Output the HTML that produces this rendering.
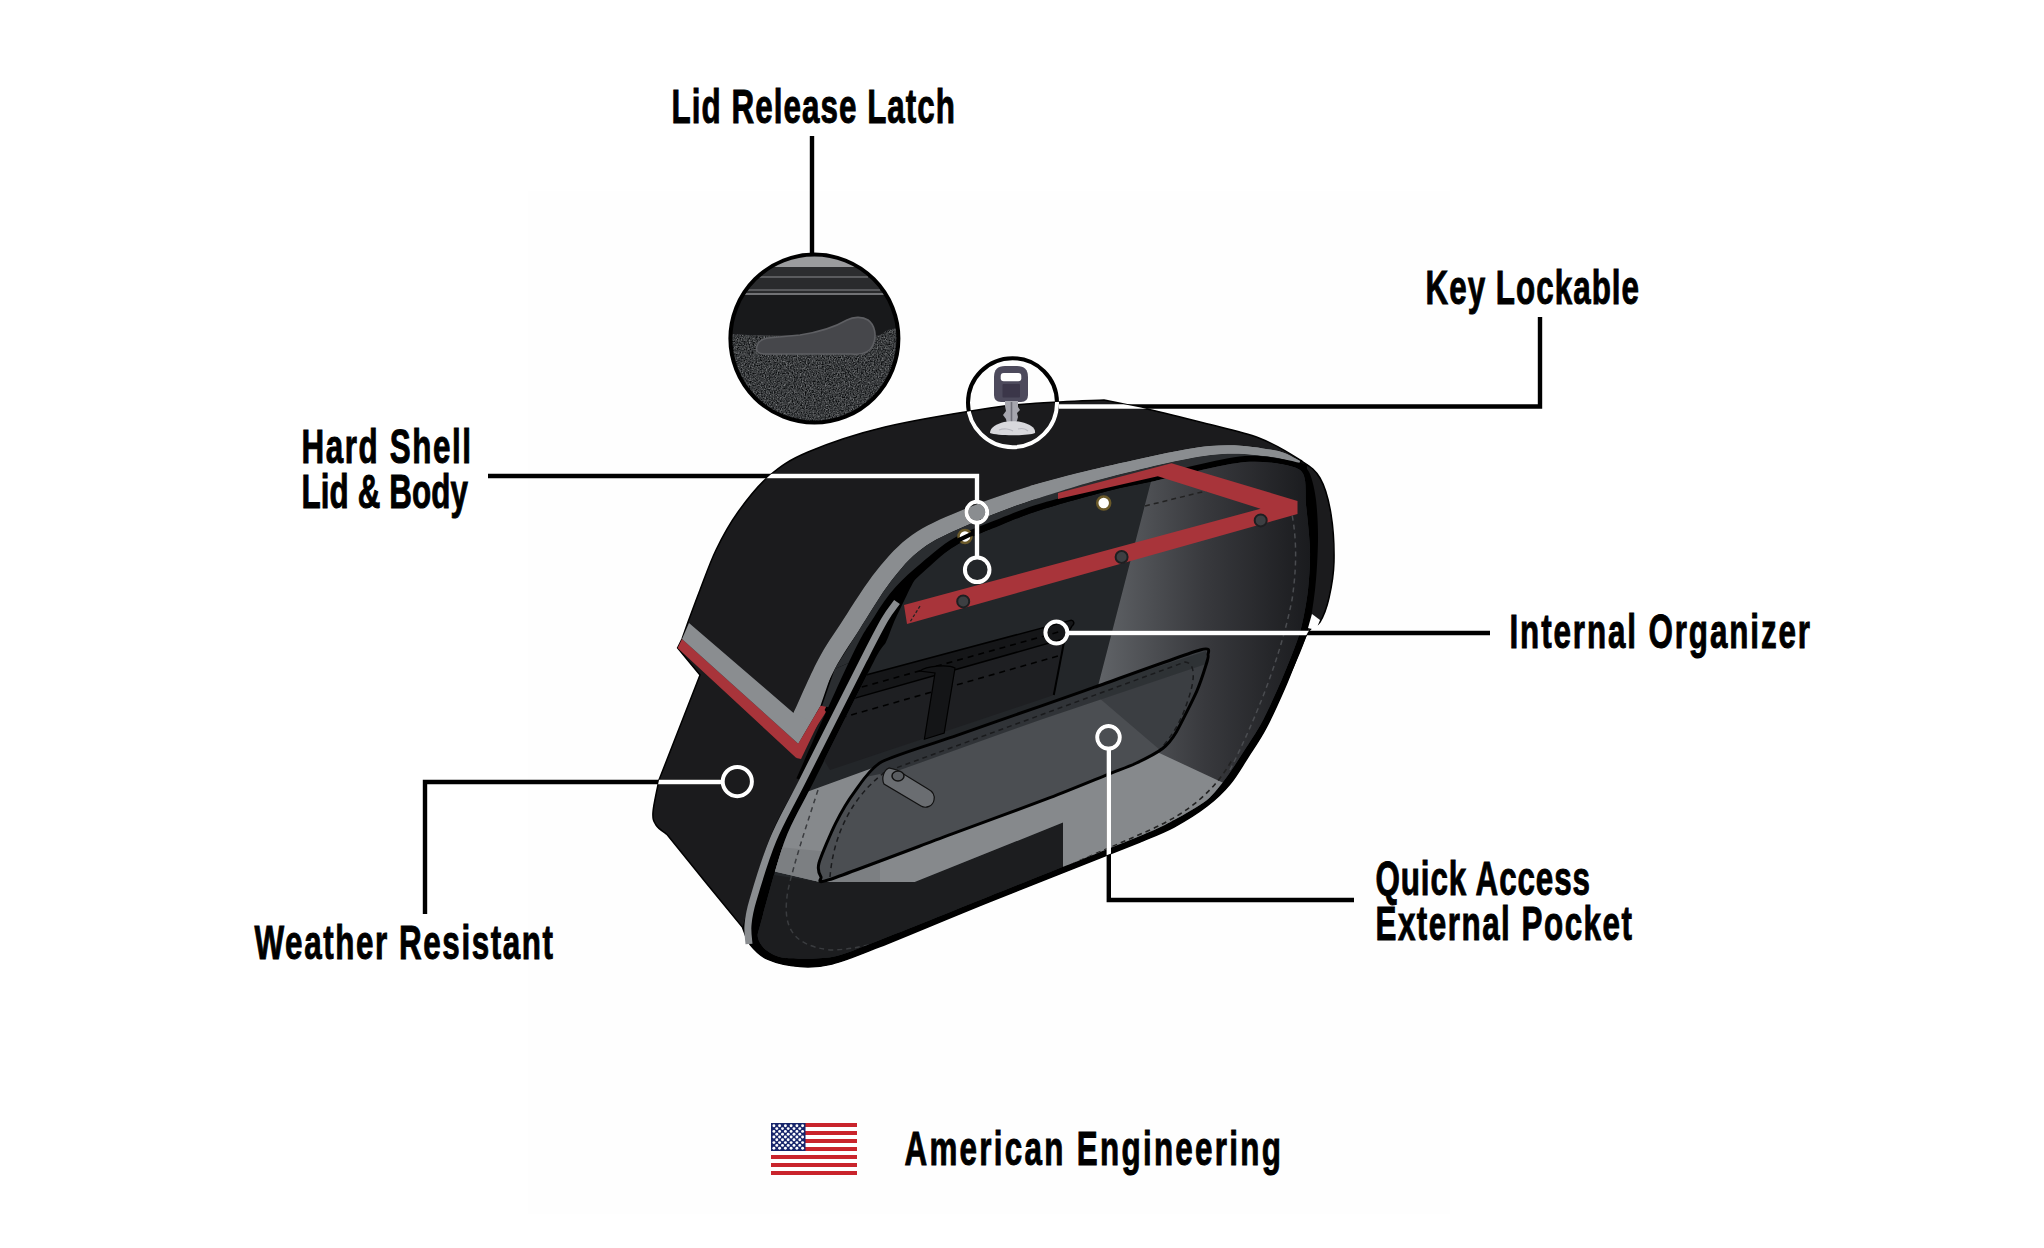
<!DOCTYPE html>
<html><head><meta charset="utf-8">
<style>
html,body{margin:0;padding:0;background:#fff;width:2044px;height:1248px;overflow:hidden}
svg{display:block}
.t{font-family:"Liberation Sans",sans-serif;font-weight:bold;font-size:49px;fill:#000;stroke:#000;stroke-width:1}
</style></head><body>
<svg width="2044" height="1248" viewBox="0 0 2044 1248">
<rect x="0" y="0" width="2044" height="1248" fill="#fff"/>
<rect x="528" y="191" width="922" height="1023" fill="#fefefe"/>
<path d="M688,622 C690.0,616.7 695.3,602.0 700.0,590.0 C704.7,578.0 709.7,563.0 716.0,550.0 C722.3,537.0 729.2,524.3 738.0,512.0 C746.8,499.7 757.3,486.0 769.0,476.0 C780.7,466.0 788.7,460.2 808.0,452.0 C827.3,443.8 854.7,434.3 885.0,427.0 C915.3,419.7 964.2,412.0 990.0,408.0 C1015.8,404.0 1021.0,404.3 1040.0,403.0 C1059.0,401.7 1093.3,400.5 1104.0,400.0 C1111.2,401.5 1130.3,405.2 1147.0,409.0 C1163.7,412.8 1185.3,418.2 1204.0,423.0 C1222.7,427.8 1243.0,431.8 1259.0,438.0 C1275.0,444.2 1289.8,453.3 1300.0,460.0 C1310.2,466.7 1314.8,469.0 1320.0,478.0 C1325.2,487.0 1328.7,500.0 1331.0,514.0 C1333.3,528.0 1334.3,548.0 1334.0,562.0 C1333.7,576.0 1331.3,588.0 1329.0,598.0 C1326.7,608.0 1323.7,616.0 1320.0,622.0 C1316.3,628.0 1312.7,623.5 1307.0,634.0 C1301.3,644.5 1292.8,669.3 1286.0,685.0 C1279.2,700.7 1272.3,716.0 1266.0,728.0 C1259.7,740.0 1254.0,747.7 1248.0,757.0 C1242.0,766.3 1236.8,775.8 1230.0,784.0 C1223.2,792.2 1216.3,798.8 1207.0,806.0 C1197.7,813.2 1185.2,821.0 1174.0,827.0 C1162.8,833.0 1145.7,839.5 1140.0,842.0 L990,901.5 C1115.0,851.9 1033.3,884.1 990.0,901.5 C946.7,918.9 906.3,936.2 880.0,946.6 C853.7,957.0 845.3,960.7 832.0,964.0 C818.7,967.3 810.7,967.4 800.0,966.6 C789.3,965.8 776.2,963.0 768.0,959.4 C759.8,955.8 754.8,950.3 750.5,945.0 C746.2,939.7 743.8,930.3 742.5,927.4 L707,884 L667,834.5 C665.2,832.9 658.3,828.8 656.0,825.0 C653.7,821.2 652.5,819.5 653.0,812.0 C653.5,804.5 658.0,785.3 659.0,780.0 L700,675 L677.6,648 L682,639 Z" fill="#1b1b1d" stroke="#000" stroke-width="1.5"/>
<path d="M793.5,713.0 C797.6,704.2 809.8,675.5 818.0,660.0 C826.2,644.5 833.2,635.0 843.0,620.0 C852.8,605.0 865.5,584.2 877.0,570.0 C888.5,555.8 898.2,544.8 912.0,535.0 C925.8,525.2 940.3,519.2 960.0,511.0 C979.7,502.8 1005.3,493.5 1030.0,486.0 C1054.7,478.5 1078.0,472.7 1108.0,466.0 C1138.0,459.3 1182.5,448.7 1210.0,446.0 C1237.5,443.3 1258.0,447.5 1273.0,450.0 C1288.0,452.5 1295.5,459.2 1300.0,461.0 C1301.5,462.9 1307.6,468.1 1310.0,474.0 C1312.4,479.9 1314.8,490.1 1316.0,500.0 C1317.2,509.9 1318.2,526.5 1318.0,540.0 C1317.8,553.5 1316.7,575.9 1315.0,590.0 C1313.3,604.1 1311.3,619.8 1307.0,634.0 C1302.7,648.2 1292.2,670.9 1286.0,685.0 C1279.8,699.1 1271.7,717.2 1266.0,728.0 C1260.3,738.8 1253.4,748.6 1248.0,757.0 C1242.6,765.4 1236.2,776.6 1230.0,784.0 C1223.8,791.4 1215.4,799.5 1207.0,806.0 C1198.6,812.5 1184.0,821.6 1174.0,827.0 C1164.0,832.4 1145.1,839.8 1140.0,842.0 L990,901.5 C1115.0,851.9 1033.3,884.1 990.0,901.5 C946.7,918.9 906.3,936.2 880.0,946.6 C853.7,957.0 845.3,960.7 832.0,964.0 C818.7,967.3 810.7,967.4 800.0,966.6 C789.3,965.8 776.2,963.0 768.0,959.4 C759.8,955.8 754.8,950.3 750.5,945.0 C746.2,939.7 743.8,930.3 742.5,927.4 C746.9,912.8 759.5,864.6 769.0,840.0 C778.5,815.4 792.0,795.0 799.2,780.0 C806.4,765.0 806.9,761.2 812.0,750.0 C817.1,738.8 827.0,719.2 830.0,713.0 Z" fill="#000"/>
<path d="M682,639 L798.3,743.7 L822.3,707 L826,712 L796.3,758 L677.6,648 Z" fill="#a8343a"/>
<path d="M689,623 L793.5,713 L825,660 L843,640 L820.4,706 L798.3,743.7 L682,639 Z" fill="#8a8d90"/>
<path d="M793.5,713.0 C797.6,704.2 809.8,675.5 818.0,660.0 C826.2,644.5 833.2,635.0 843.0,620.0 C852.8,605.0 865.5,584.2 877.0,570.0 C888.5,555.8 898.2,544.8 912.0,535.0 C925.8,525.2 940.3,519.2 960.0,511.0 C979.7,502.8 1005.3,493.5 1030.0,486.0 C1054.7,478.5 1078.0,472.7 1108.0,466.0 C1138.0,459.3 1182.5,448.7 1210.0,446.0 C1237.5,443.3 1258.0,447.5 1273.0,450.0 C1288.0,452.5 1295.5,459.2 1300.0,461.0 L1298.5,464.7 C1294.1,463.4 1286.5,458.5 1271.8,456.9 C1257.2,455.3 1237.8,451.7 1210.9,455.0 C1184.0,458.3 1139.9,469.3 1110.4,476.7 C1080.9,484.1 1058.1,491.2 1034.1,499.4 C1010.0,507.6 984.8,517.5 966.1,525.8 C947.4,534.0 934.4,539.6 921.8,548.9 C909.3,558.1 901.5,567.8 891.0,581.3 C880.5,594.9 868.3,615.8 858.9,630.4 C849.5,645.0 842.8,653.8 834.8,668.9 C826.7,684.0 814.8,712.3 810.7,721.0 Z" fill="#8a8d90"/>
<path d="M796.3,758 L798.3,743.7 L820.4,706 L827,705 L801,759 Z" fill="#a8343a"/>
<path d="M834.8,668.9 L855.5,660 L832,708 L822,706 Z" fill="#2a2d30"/>
<path d="M1298.5,464.7 C1294.1,463.4 1286.5,458.5 1271.8,456.9 C1257.2,455.3 1237.8,451.7 1210.9,455.0 C1184.0,458.3 1139.9,469.3 1110.4,476.7 C1080.9,484.1 1058.1,491.2 1034.1,499.4 C1010.0,507.6 984.8,517.5 966.1,525.8 C947.4,534.0 934.4,539.6 921.8,548.9 C909.3,558.1 901.5,567.8 891.0,581.3 C880.5,594.9 868.3,615.8 858.9,630.4 C849.5,645.0 838.8,662.5 834.8,668.9 L855.5,660.0 C859.2,653.3 870.8,631.7 878.0,620.0 C885.2,608.3 891.3,599.0 899.0,590.0 C906.7,581.0 914.5,574.2 924.0,566.0 C933.5,557.8 943.3,548.3 956.0,541.0 C968.7,533.7 986.0,527.7 1000.0,522.0 C1014.0,516.3 1022.0,512.7 1040.0,507.0 C1058.0,501.3 1089.7,492.7 1108.0,488.0 C1126.3,483.3 1126.8,483.9 1149.6,479.0 C1172.4,474.1 1218.8,460.6 1245.0,458.5 C1271.2,456.4 1296.7,465.3 1307.0,466.7 Z" fill="#2a2d30"/>
<clipPath id="pinclip"><path d="M1300.0,470.0 C1291.9,464.3 1265.0,460.4 1245.0,462.0 C1225.0,463.6 1168.3,478.1 1150.0,482.0 C1131.7,485.9 1122.7,487.3 1108.0,491.0 C1093.3,494.7 1054.4,505.5 1040.0,510.0 C1025.6,514.5 1008.5,521.7 1000.0,525.0 C991.5,528.3 981.3,532.6 976.0,535.0 C970.7,537.4 965.6,539.7 960.0,543.0 C954.4,546.3 939.9,555.3 934.0,560.0 C928.1,564.7 920.0,572.5 916.0,578.0 C912.0,583.5 906.9,595.1 904.0,601.0 C901.1,606.9 896.4,616.5 894.0,622.0 C891.6,627.5 888.7,636.7 886.0,642.0 C883.3,647.3 883.1,643.6 873.6,662.0 C864.1,680.4 826.4,756.3 814.6,780.0 C802.8,803.7 792.1,821.1 785.0,840.0 C777.9,858.9 764.6,908.9 761.0,922.0 C757.4,935.1 757.3,934.3 758.0,938.0 C758.7,941.7 762.4,947.3 766.0,950.0 C769.6,952.7 776.2,957.1 785.0,958.0 C793.8,958.9 819.3,959.4 832.0,957.0 C844.7,954.6 858.9,948.1 880.0,940.0 C901.1,931.9 955.3,909.9 990.0,896.0 C1024.7,882.1 1115.5,846.1 1140.0,836.0 C1164.5,825.9 1165.1,824.8 1174.0,820.0 C1182.9,815.2 1200.1,805.6 1207.0,800.0 C1213.9,794.4 1221.1,784.5 1226.0,778.0 C1230.9,771.5 1239.2,758.5 1244.0,751.0 C1248.8,743.5 1256.9,731.6 1262.0,722.0 C1267.1,712.4 1276.9,691.0 1282.0,679.0 C1287.1,667.0 1296.5,643.9 1300.0,632.0 C1303.5,620.1 1306.7,600.9 1308.0,590.0 C1309.3,579.1 1310.3,561.3 1310.0,550.0 C1309.7,538.7 1307.3,515.7 1306.0,505.0 C1304.7,494.3 1308.1,475.7 1300.0,470.0 Z"/></clipPath>
<g clip-path="url(#pinclip)">
<clipPath id="gb"><path d="M760,800 L802.5,793.5 L874.6,767.3 L1000,740 L1155,751 L1230,786 L1230,900 L1063,900 L1063,822.6 L914.7,882 L819.8,882 L760,868 Z"/></clipPath>
<rect x="700" y="440" width="650" height="540" fill="#232629"/>
<linearGradient id="hl" x1="1100" y1="0" x2="1310" y2="0" gradientUnits="userSpaceOnUse"><stop offset="0" stop-color="#606367"/><stop offset="0.5" stop-color="#38393d"/><stop offset="1" stop-color="#1a1b1e"/></linearGradient>
<path d="M1154,470 L1097,690 L1060,820 L1350,820 L1350,440 Z" fill="url(#hl)"/>
<path d="M800,720 L849.8,699.6 L1064.4,638.7 L1053.8,695 L830,770 Z" fill="#1e1f22"/>
<path d="M790,695 L865,675.2 L1070.5,620.4 C1074,620 1075,624 1072,626 L1064.4,638.7 L849.8,699.6 L790,718 Z" fill="#151618" stroke="#000" stroke-width="1.5"/>
<path d="M830,696 L1062,631" fill="none" stroke="#000" stroke-width="1.6" stroke-dasharray="6,5"/>
<path d="M830,721 L1058,656" fill="none" stroke="#000" stroke-width="1.6" stroke-dasharray="6,5"/>
<path d="M1064.4,640 L1053.8,695" stroke="#000" stroke-width="2"/>
<path d="M920,671 C926,666 948,664 955,668 L944.2,733 L924.4,739.2 L935,673 Z" fill="#141517" stroke="#000" stroke-width="1.2"/>
<path d="M740,980 L740,870 L819.8,882 L914.7,882 L1063,822.6 L1063,980 Z" fill="#1c1d1f"/>
<path d="M760,800 L802.5,793.5 L874.6,767.3 L1000,740 L1155,751 L1230,786 L1230,900 L1063,900 L1063,822.6 L914.7,882 L819.8,882 L760,868 Z" fill="#86898c"/>
<path d="M760,845 L840,853 L880,850 L880,890 L760,890 Z" fill="#7c7f82" clip-path="url(#gb)"/>
<path d="M818,790 C805,830 795,860 788,890 C782,925 790,945 830,950 C880,950 960,915 1063,872" fill="none" stroke="#3a3c3f" stroke-width="1.5" stroke-dasharray="5,4"/>
<path d="M1063,868 L1150,830 C1190,812 1215,790 1232,760" fill="none" stroke="#222" stroke-width="1.6" stroke-dasharray="5,4"/>
<path d="M1230,770 C1255,720 1280,660 1292,600 C1298,560 1296,530 1290,505" fill="none" stroke="#4a4c50" stroke-width="1.5" stroke-dasharray="5,4"/>
<path d="M1145,506 L1210,490" stroke="#222" stroke-width="1.5" stroke-dasharray="5,4"/>
</g>
<path d="M1030.0,486.0 C1043.0,482.7 1078.0,472.7 1108.0,466.0 C1138.0,459.3 1182.5,448.7 1210.0,446.0 C1237.5,443.3 1258.0,447.5 1273.0,450.0 C1288.0,452.5 1295.5,459.2 1300.0,461.0 L1298.5,464.7 C1294.1,463.4 1286.5,458.5 1271.8,456.9 C1257.2,455.3 1237.8,451.7 1210.9,455.0 C1184.0,458.3 1140.0,469.3 1110.4,476.7 C1080.8,484.2 1046.3,495.8 1033.5,499.6 Z" fill="#8a8d90"/>
<path d="M796.4,778.3 C805.5,758.2 838.1,684.6 851.0,657.8 C863.9,631.0 866.3,629.1 873.8,617.4 C881.2,605.6 887.6,596.1 895.6,587.1 C903.5,578.0 911.6,571.2 921.4,563.0 C931.2,554.8 941.3,545.3 954.2,538.0 C967.1,530.6 984.6,524.6 998.8,519.0 C1012.9,513.3 1021.0,509.7 1039.1,504.1 C1057.2,498.5 1089.0,489.9 1107.3,485.3 C1125.6,480.7 1126.2,481.4 1149.1,476.6 C1172.0,471.7 1218.4,458.1 1244.8,456.0 C1271.2,454.0 1296.9,462.9 1307.3,464.2 L1306.7,469.2 C1296.4,467.8 1271.3,458.9 1245.2,461.0 C1219.1,463.0 1172.9,476.5 1150.1,481.4 C1127.4,486.4 1126.9,485.9 1108.7,490.7 C1090.5,495.4 1058.8,504.1 1040.9,509.9 C1023.0,515.6 1015.1,519.3 1001.2,525.0 C987.4,530.7 970.2,536.7 957.8,544.0 C945.3,551.4 935.8,560.9 926.6,569.0 C917.4,577.2 909.8,584.0 902.4,592.9 C895.0,601.9 889.3,611.1 882.2,622.6 C875.2,634.2 873.1,635.7 860.0,662.2 C846.9,688.7 813.0,761.8 803.6,781.7 Z" fill="#000"/>
<path d="M904,605 L1260.5,508.7 L1157.8,476.3 L1058,499 L1058,493 L1171.5,463.3 L1297.5,501 L1297.5,514 L907,624 Z" fill="#a8343a"/>
<path d="M749.0,944.0 C748.8,940.8 747.3,932.3 748.0,925.0 C748.7,917.7 748.8,914.2 753.0,900.0 C757.2,885.8 764.7,860.0 773.0,840.0 C781.3,820.0 787.9,810.0 803.0,780.0 C818.1,750.0 849.9,686.7 863.5,660.0 C877.1,633.3 878.9,629.7 884.5,620.0 C890.1,610.3 894.9,605.0 897.0,602.0" fill="none" stroke="#8a8d90" stroke-width="7"/>
<path d="M920,606 L910,622" stroke="#222" stroke-width="1.3" stroke-dasharray="3,2"/>
<circle cx="963.2" cy="601.4" r="6" fill="#3d3f42" stroke="#1e1f21" stroke-width="2"/>
<circle cx="1121.6" cy="557.0" r="6" fill="#3d3f42" stroke="#1e1f21" stroke-width="2"/>
<circle cx="1260.7" cy="520.4" r="6" fill="#3d3f42" stroke="#1e1f21" stroke-width="2"/>
<circle cx="1103.7" cy="503.0" r="6.5" fill="#fff" stroke="#6b5a2a" stroke-width="2.5"/>
<circle cx="965.0" cy="536.4" r="6.5" fill="#fff" stroke="#6b5a2a" stroke-width="2.5"/>
<path d="M950,545 C965,536 975,532 990,527" fill="none" stroke="#000" stroke-width="4"/>
<clipPath id="pkclip"><path d="M1200.0,650.0 C1186.8,653.8 1113.2,680.6 1094.5,687.2 C1075.8,693.8 1056.0,700.7 1040.0,706.3 C1024.0,711.9 975.5,728.9 957.0,735.4 C938.5,741.9 893.7,755.3 881.8,761.8 C869.9,768.3 860.3,784.1 854.9,791.3 C849.5,798.5 839.8,814.9 835.6,823.3 C831.4,831.7 820.7,856.7 819.0,863.0 C817.3,869.3 819.8,875.1 821.0,877.0 C822.2,878.9 814.0,884.7 829.2,879.7 C844.4,874.7 925.7,843.8 951.5,834.2 C977.3,824.6 1031.7,804.7 1050.0,797.7 C1068.3,790.7 1098.0,778.4 1108.0,774.4 C1118.0,770.4 1129.0,766.5 1135.4,763.5 C1141.8,760.5 1157.8,752.2 1162.6,748.5 C1167.4,744.8 1172.2,738.9 1176.2,732.2 C1180.2,725.5 1193.2,699.1 1196.7,691.3 C1200.2,683.5 1204.7,669.2 1206.0,665.0 C1207.3,660.8 1208.7,656.8 1208.0,655.0 C1207.3,653.2 1213.2,646.2 1200.0,650.0 Z"/></clipPath>
<path d="M1200.0,650.0 C1186.8,653.8 1113.2,680.6 1094.5,687.2 C1075.8,693.8 1056.0,700.7 1040.0,706.3 C1024.0,711.9 975.5,728.9 957.0,735.4 C938.5,741.9 893.7,755.3 881.8,761.8 C869.9,768.3 860.3,784.1 854.9,791.3 C849.5,798.5 839.8,814.9 835.6,823.3 C831.4,831.7 820.7,856.7 819.0,863.0 C817.3,869.3 819.8,875.1 821.0,877.0 C822.2,878.9 814.0,884.7 829.2,879.7 C844.4,874.7 925.7,843.8 951.5,834.2 C977.3,824.6 1031.7,804.7 1050.0,797.7 C1068.3,790.7 1098.0,778.4 1108.0,774.4 C1118.0,770.4 1129.0,766.5 1135.4,763.5 C1141.8,760.5 1157.8,752.2 1162.6,748.5 C1167.4,744.8 1172.2,738.9 1176.2,732.2 C1180.2,725.5 1193.2,699.1 1196.7,691.3 C1200.2,683.5 1204.7,669.2 1206.0,665.0 C1207.3,660.8 1208.7,656.8 1208.0,655.0 C1207.3,653.2 1213.2,646.2 1200.0,650.0 Z" fill="#4b4e52"/>
<g clip-path="url(#pkclip)">
<path d="M1098,697 L1160,750 L1240,760 L1240,640 L1120,640 Z" fill="#3b3e42"/>
<path d="M800,760 L897,755 L1038,705.7 L1206,651 L1206,664 L1040,720 L900,770 L800,790 Z" fill="#2e3134" opacity="0.9"/>
<path d="M830,877 C833,840 848,800 885,772 L1038,716 L1185,662 C1196,663 1195,680 1188,700 C1180,725 1170,740 1150,760" fill="none" stroke="#1a1b1d" stroke-width="1.5" stroke-dasharray="5,4"/>
</g>
<path d="M1200.0,650.0 C1186.8,653.8 1113.2,680.6 1094.5,687.2 C1075.8,693.8 1056.0,700.7 1040.0,706.3 C1024.0,711.9 975.5,728.9 957.0,735.4 C938.5,741.9 893.7,755.3 881.8,761.8 C869.9,768.3 860.3,784.1 854.9,791.3 C849.5,798.5 839.8,814.9 835.6,823.3 C831.4,831.7 820.7,856.7 819.0,863.0 C817.3,869.3 819.8,875.1 821.0,877.0 C822.2,878.9 814.0,884.7 829.2,879.7 C844.4,874.7 925.7,843.8 951.5,834.2 C977.3,824.6 1031.7,804.7 1050.0,797.7 C1068.3,790.7 1098.0,778.4 1108.0,774.4 C1118.0,770.4 1129.0,766.5 1135.4,763.5 C1141.8,760.5 1157.8,752.2 1162.6,748.5 C1167.4,744.8 1172.2,738.9 1176.2,732.2 C1180.2,725.5 1193.2,699.1 1196.7,691.3 C1200.2,683.5 1204.7,669.2 1206.0,665.0 C1207.3,660.8 1208.7,656.8 1208.0,655.0 C1207.3,653.2 1213.2,646.2 1200.0,650.0 Z" fill="none" stroke="#000" stroke-width="3"/>
<path d="M889,768 C884,770 881,778 884,784 L921,806 C926,809 933,806 934,800 C935,795 932,791 928,789 L897,770 Z" fill="#6a6d71" stroke="#111" stroke-width="1.2"/>
<ellipse cx="898" cy="776" rx="6" ry="5" fill="#5a5d61" stroke="#111" stroke-width="1.5"/>
<path d="M1312,614 L1320,620 L1316,630 L1308,628 Z" fill="#fff"/>
<clipPath id="latch"><circle cx="814.4" cy="338.6" r="84"/></clipPath>
<g clip-path="url(#latch)">
<rect x="720" y="250" width="190" height="180" fill="#2a2b2d"/>
<rect x="720" y="250" width="190" height="17" fill="#9b9c9e"/>
<rect x="720" y="267" width="190" height="10" fill="#2c2d2f"/>
<path d="M758,277 L868,277" stroke="#6b6c6f" stroke-width="1.5"/>
<path d="M748,290 L880,290" stroke="#58595c" stroke-width="2"/>
<path d="M742,294 L886,294" stroke="#8a8b8e" stroke-width="1.5"/>
<rect x="720" y="295" width="190" height="40" fill="#18191b"/>
<filter id="nz" x="720" y="320" width="190" height="110" filterUnits="userSpaceOnUse" color-interpolation-filters="sRGB"><feTurbulence type="fractalNoise" baseFrequency="0.75" numOctaves="2" seed="5"/><feColorMatrix type="matrix" values="0.33 0.33 0.34 0 0 0.33 0.33 0.34 0 0 0.33 0.33 0.34 0 0 0 0 0 0 1"/><feComponentTransfer><feFuncR type="linear" slope="1.5" intercept="-0.52"/><feFuncG type="linear" slope="1.5" intercept="-0.515"/><feFuncB type="linear" slope="1.5" intercept="-0.505"/></feComponentTransfer><feComposite in2="SourceGraphic" operator="in"/></filter>
<path d="M720,334 L868,339 C878,338 882,333 888,330 C894,328 900,328 910,328 L910,430 L720,430 Z" fill="#3b3c3f"/>
<path d="M720,334 L868,339 C878,338 882,333 888,330 C894,328 900,328 910,328 L910,430 L720,430 Z" fill="#3b3c3f" filter="url(#nz)" opacity="0.8"/>
<path d="M757,346 C755,352 759,354 765,354 L852,354 C862,355 870,352 873,345 C877,336 875,325 868,320 C862,316 853,317 847,320 C835,327 820,332 800,335 L768,338 C762,339 758,342 757,346 Z" fill="#46474b" stroke="#5e5f63" stroke-width="1.6"/>
</g>
<circle cx="814.4" cy="338.6" r="84" fill="none" stroke="#000" stroke-width="4"/>
<path d="M1005,366 L1017,366 Q1028,366 1028,377 L1028,395 Q1028,402 1021,402 L1001,402 Q994,402 994,395 L994,377 Q994,366 1005,366 Z" fill="#4d4a5c"/>
<rect x="1000.7" y="372.9" width="20.6" height="8.3" rx="3" fill="#fff"/>
<rect x="1002.5" y="384" width="17.5" height="13.5" rx="1" fill="#3b3649"/>
<path d="M1005,401 L1018,401 L1018,407 L1020,410 L1017,413 L1018,417 L1016,424 L1007,424 L1006,419 L1003,415 L1006,411 L1005,406 Z" fill="#a6a6ae"/>
<path d="M1011.5,402 L1011.5,423" stroke="#6e6e78" stroke-width="1.6"/>
<path d="M990,433 C990,427 997,424 1004,422 C1009,421 1016,421 1021,422 C1030,424 1036,428 1035,433 C1028,436 997,436 990,433 Z" fill="#d8d8dc"/>
<path d="M999,430 C1004,428 1010,429 1013,431 M1018,429 C1022,428 1026,429 1028,431" fill="none" stroke="#b8b8bf" stroke-width="1.2"/>
<clipPath id="bagclip"><path d="M688,622 C690.0,616.7 695.3,602.0 700.0,590.0 C704.7,578.0 709.7,563.0 716.0,550.0 C722.3,537.0 729.2,524.3 738.0,512.0 C746.8,499.7 757.3,486.0 769.0,476.0 C780.7,466.0 788.7,460.2 808.0,452.0 C827.3,443.8 854.7,434.3 885.0,427.0 C915.3,419.7 964.2,412.0 990.0,408.0 C1015.8,404.0 1021.0,404.3 1040.0,403.0 C1059.0,401.7 1093.3,400.5 1104.0,400.0 C1111.2,401.5 1130.3,405.2 1147.0,409.0 C1163.7,412.8 1185.3,418.2 1204.0,423.0 C1222.7,427.8 1243.0,431.8 1259.0,438.0 C1275.0,444.2 1289.8,453.3 1300.0,460.0 C1310.2,466.7 1314.8,469.0 1320.0,478.0 C1325.2,487.0 1328.7,500.0 1331.0,514.0 C1333.3,528.0 1334.3,548.0 1334.0,562.0 C1333.7,576.0 1331.3,588.0 1329.0,598.0 C1326.7,608.0 1323.7,616.0 1320.0,622.0 C1316.3,628.0 1312.7,623.5 1307.0,634.0 C1301.3,644.5 1292.8,669.3 1286.0,685.0 C1279.2,700.7 1272.3,716.0 1266.0,728.0 C1259.7,740.0 1254.0,747.7 1248.0,757.0 C1242.0,766.3 1236.8,775.8 1230.0,784.0 C1223.2,792.2 1216.3,798.8 1207.0,806.0 C1197.7,813.2 1185.2,821.0 1174.0,827.0 C1162.8,833.0 1145.7,839.5 1140.0,842.0 L990,901.5 C1115.0,851.9 1033.3,884.1 990.0,901.5 C946.7,918.9 906.3,936.2 880.0,946.6 C853.7,957.0 845.3,960.7 832.0,964.0 C818.7,967.3 810.7,967.4 800.0,966.6 C789.3,965.8 776.2,963.0 768.0,959.4 C759.8,955.8 754.8,950.3 750.5,945.0 C746.2,939.7 743.8,930.3 742.5,927.4 L707,884 L667,834.5 C665.2,832.9 658.3,828.8 656.0,825.0 C653.7,821.2 652.5,819.5 653.0,812.0 C653.5,804.5 658.0,785.3 659.0,780.0 L700,675 L677.6,648 L682,639 Z"/></clipPath>
<g><path d="M812,136 L812,254 M1540,317 L1540,406.5 L1059,406.5 M488,476 L977,476 L977,500 M977,524 L977,556 M1069,633 L1490,633 M425,914 L425,782 L721,782 M1108.8,750 L1108.8,900 L1354,900" fill="none" stroke="#000" stroke-width="4.4"/><circle cx="976.8" cy="512.2" r="10.4" fill="none" stroke="#000" stroke-width="4"/><circle cx="977.2" cy="569.8" r="12.3" fill="none" stroke="#000" stroke-width="4"/><circle cx="1056.4" cy="632.6" r="11.0" fill="none" stroke="#000" stroke-width="4"/><circle cx="737.3" cy="781.6" r="14.6" fill="none" stroke="#000" stroke-width="4"/><circle cx="1108.5" cy="737.3" r="11.3" fill="none" stroke="#000" stroke-width="4"/><circle cx="1012.5" cy="402.7" r="44.5" fill="none" stroke="#000" stroke-width="4"/></g>
<g clip-path="url(#bagclip)"><path d="M812,136 L812,254 M1540,317 L1540,406.5 L1059,406.5 M488,476 L977,476 L977,500 M977,524 L977,556 M1069,633 L1490,633 M425,914 L425,782 L721,782 M1108.8,750 L1108.8,900 L1354,900" fill="none" stroke="#fff" stroke-width="4.4"/><circle cx="976.8" cy="512.2" r="10.4" fill="none" stroke="#fff" stroke-width="4"/><circle cx="977.2" cy="569.8" r="12.3" fill="none" stroke="#fff" stroke-width="4"/><circle cx="1056.4" cy="632.6" r="11.0" fill="none" stroke="#fff" stroke-width="4"/><circle cx="737.3" cy="781.6" r="14.6" fill="none" stroke="#fff" stroke-width="4"/><circle cx="1108.5" cy="737.3" r="11.3" fill="none" stroke="#fff" stroke-width="4"/><circle cx="1012.5" cy="402.7" r="44.5" fill="none" stroke="#fff" stroke-width="4"/></g>
<rect x="771" y="1123" width="86" height="52" fill="#fff"/>
<rect x="771" y="1123.00" width="86" height="4.00" fill="#c9242c"/>
<rect x="771" y="1131.00" width="86" height="4.00" fill="#c9242c"/>
<rect x="771" y="1139.00" width="86" height="4.00" fill="#c9242c"/>
<rect x="771" y="1147.00" width="86" height="4.00" fill="#c9242c"/>
<rect x="771" y="1155.00" width="86" height="4.00" fill="#c9242c"/>
<rect x="771" y="1163.00" width="86" height="4.00" fill="#c9242c"/>
<rect x="771" y="1171.00" width="86" height="4.00" fill="#c9242c"/>
<rect x="771" y="1123" width="34.5" height="28.00" fill="#17256b"/>
<circle cx="773.9" cy="1125.8" r="1.45" fill="#fff"/><circle cx="779.6" cy="1125.8" r="1.45" fill="#fff"/><circle cx="785.4" cy="1125.8" r="1.45" fill="#fff"/><circle cx="791.1" cy="1125.8" r="1.45" fill="#fff"/><circle cx="796.9" cy="1125.8" r="1.45" fill="#fff"/><circle cx="802.6" cy="1125.8" r="1.45" fill="#fff"/><circle cx="776.8" cy="1128.6" r="1.45" fill="#fff"/><circle cx="782.5" cy="1128.6" r="1.45" fill="#fff"/><circle cx="788.2" cy="1128.6" r="1.45" fill="#fff"/><circle cx="794.0" cy="1128.6" r="1.45" fill="#fff"/><circle cx="799.8" cy="1128.6" r="1.45" fill="#fff"/><circle cx="773.9" cy="1131.4" r="1.45" fill="#fff"/><circle cx="779.6" cy="1131.4" r="1.45" fill="#fff"/><circle cx="785.4" cy="1131.4" r="1.45" fill="#fff"/><circle cx="791.1" cy="1131.4" r="1.45" fill="#fff"/><circle cx="796.9" cy="1131.4" r="1.45" fill="#fff"/><circle cx="802.6" cy="1131.4" r="1.45" fill="#fff"/><circle cx="776.8" cy="1134.2" r="1.45" fill="#fff"/><circle cx="782.5" cy="1134.2" r="1.45" fill="#fff"/><circle cx="788.2" cy="1134.2" r="1.45" fill="#fff"/><circle cx="794.0" cy="1134.2" r="1.45" fill="#fff"/><circle cx="799.8" cy="1134.2" r="1.45" fill="#fff"/><circle cx="773.9" cy="1137.0" r="1.45" fill="#fff"/><circle cx="779.6" cy="1137.0" r="1.45" fill="#fff"/><circle cx="785.4" cy="1137.0" r="1.45" fill="#fff"/><circle cx="791.1" cy="1137.0" r="1.45" fill="#fff"/><circle cx="796.9" cy="1137.0" r="1.45" fill="#fff"/><circle cx="802.6" cy="1137.0" r="1.45" fill="#fff"/><circle cx="776.8" cy="1139.8" r="1.45" fill="#fff"/><circle cx="782.5" cy="1139.8" r="1.45" fill="#fff"/><circle cx="788.2" cy="1139.8" r="1.45" fill="#fff"/><circle cx="794.0" cy="1139.8" r="1.45" fill="#fff"/><circle cx="799.8" cy="1139.8" r="1.45" fill="#fff"/><circle cx="773.9" cy="1142.6" r="1.45" fill="#fff"/><circle cx="779.6" cy="1142.6" r="1.45" fill="#fff"/><circle cx="785.4" cy="1142.6" r="1.45" fill="#fff"/><circle cx="791.1" cy="1142.6" r="1.45" fill="#fff"/><circle cx="796.9" cy="1142.6" r="1.45" fill="#fff"/><circle cx="802.6" cy="1142.6" r="1.45" fill="#fff"/><circle cx="776.8" cy="1145.4" r="1.45" fill="#fff"/><circle cx="782.5" cy="1145.4" r="1.45" fill="#fff"/><circle cx="788.2" cy="1145.4" r="1.45" fill="#fff"/><circle cx="794.0" cy="1145.4" r="1.45" fill="#fff"/><circle cx="799.8" cy="1145.4" r="1.45" fill="#fff"/><circle cx="773.9" cy="1148.2" r="1.45" fill="#fff"/><circle cx="779.6" cy="1148.2" r="1.45" fill="#fff"/><circle cx="785.4" cy="1148.2" r="1.45" fill="#fff"/><circle cx="791.1" cy="1148.2" r="1.45" fill="#fff"/><circle cx="796.9" cy="1148.2" r="1.45" fill="#fff"/><circle cx="802.6" cy="1148.2" r="1.45" fill="#fff"/>
<g class="t">
<text transform="translate(671.5,122.5) scale(0.64,1)" textLength="443.0" lengthAdjust="spacing">Lid Release Latch</text>
<text transform="translate(1425.5,303.5) scale(0.64,1)" textLength="333.6" lengthAdjust="spacing">Key Lockable</text>
<text transform="translate(301.5,462.5) scale(0.64,1)" textLength="264.8" lengthAdjust="spacing">Hard Shell</text>
<text transform="translate(301.5,507.5) scale(0.64,1)" textLength="260.2" lengthAdjust="spacing">Lid &amp; Body</text>
<text transform="translate(1509.5,647.5) scale(0.64,1)" textLength="469.5" lengthAdjust="spacing">Internal Organizer</text>
<text transform="translate(1375.5,895.0) scale(0.64,1)" textLength="335.1" lengthAdjust="spacing">Quick Access</text>
<text transform="translate(1375.5,940.0) scale(0.64,1)" textLength="400.7" lengthAdjust="spacing">External Pocket</text>
<text transform="translate(254.5,958.5) scale(0.64,1)" textLength="466.4" lengthAdjust="spacing">Weather Resistant</text>
<text transform="translate(904.5,1164.5) scale(0.64,1)" textLength="588.2" lengthAdjust="spacing">American Engineering</text>
</g>
</svg>
</body></html>
